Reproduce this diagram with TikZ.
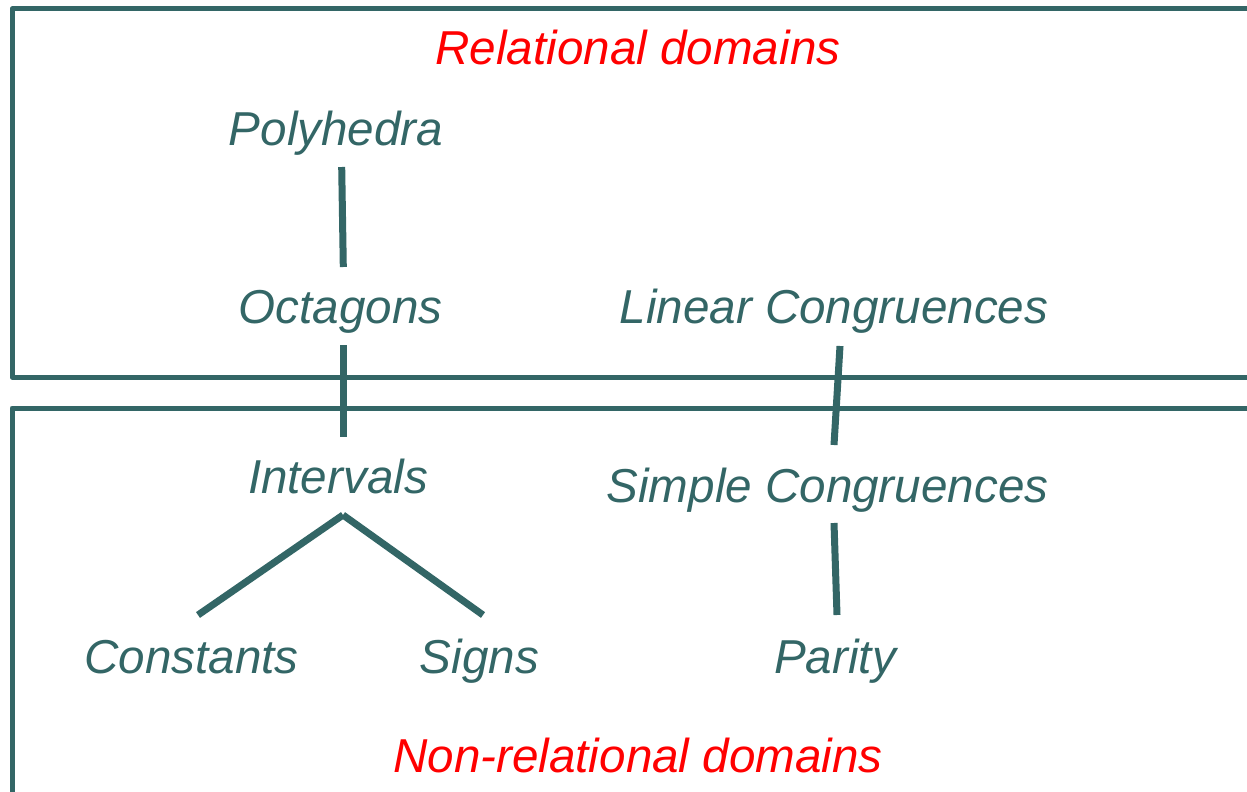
\documentclass[tikz,border=0pt]{standalone}
\usepackage{fontspec}
\setmainfont{Liberation Sans}
\usetikzlibrary{calc}
\definecolor{teal}{RGB}{51,102,102}
\definecolor{hdred}{RGB}{255,0,0}
\begin{document}
\begin{tikzpicture}[x=1pt,y=-1pt,
  dom/.style={anchor=base,inner sep=0pt,text=teal,font=\fontsize{47.6}{50}\selectfont\itshape},
  hdr/.style={dom,text=hdred},
  frame/.style={draw=teal,line width=5pt,line join=round},
  link/.style={draw=teal,line width=7pt}]
\useasboundingbox (0,0) rectangle (1247,792);

% domain groups
\draw[frame] (1270,9) -- (12,9) -- (12,377) -- (1270,377);
\draw[frame] (1270,408) -- (12,408) -- (12,810);

% labels
\node[hdr] (rel) at (638,65) {Relational domains};
\node[hdr] (nonrel) at (638,772) {Non-relational domains};
\node[dom] (poly) at (336,145) {Polyhedra};
\node[dom] (oct) at (340.5,323) {Octagons};
\node[dom] (lin) at (834,323) {Linear Congruences};
\node[dom] (ints) at (338,493) {Intervals};
\node[dom] (simp) at (827.5,502) {Simple Congruences};
\node[dom] (cons) at (191.5,673) {Constants};
\node[dom] (signs) at (479.5,673) {Signs};
\node[dom] (par) at (835,673) {Parity};

% ordering between domains
\draw[link] ($(poly.base)+(5.7,22)$) -- ($(oct.base)+(2.8,-56)$);
\draw[link] ($(oct.base)+(2.5,22)$) -- ($(ints.base)+(5,-56)$);
\draw[link] ($(lin.base)+(6,23)$) -- ($(simp.base)+(6.5,-57)$);
\draw[link] ($(ints.base)+(5,22)$) -- ($(cons.base)+(6.5,-58)$);
\draw[link] ($(ints.base)+(5,22)$) -- ($(signs.base)+(3.5,-58)$);
\draw[link] ($(simp.base)+(6.5,21)$) -- ($(par.base)+(2,-58)$);
\end{tikzpicture}
\end{document}
